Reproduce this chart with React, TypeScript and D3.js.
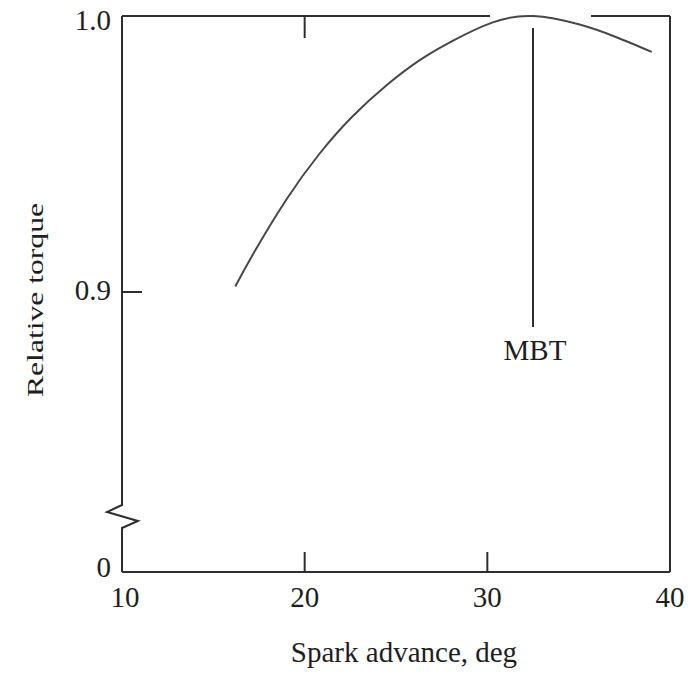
import React from "react";
import * as d3 from "d3";

// Spark advance sweep (deg BTC) and torque relative to the maximum
const sparkAdvance = [16.2, 17.2, 19.0, 20.8, 22.6, 24.5, 26.3, 28.1, 30.3, 32.5, 35.0, 37.0, 39.0];
const relTorque = [0.902, 0.914, 0.9335, 0.95, 0.9635, 0.975, 0.984, 0.991, 0.9977, 1.0, 0.997, 0.9925, 0.987];

const xTicks = [10, 20, 30, 40];
const yTicks = [0.9, 1.0];
const yZeroLabel = "0";
const mbtAdvance = 32.5;

const W = 692;
const H = 678;
const left = 122;
const right = 670;
const top = 16;
const bottom = 572;

export default function App() {
  const x = d3.scaleLinear().domain([10, 40]).range([left, right]);
  const y = d3.scaleLinear().domain([0.9, 1.0]).range([292, top]);

  const pts: [number, number][] = sparkAdvance.map((d, i) => [d, relTorque[i]]);
  const line = d3
    .line<[number, number]>()
    .x((d) => x(d[0]))
    .y((d) => y(d[1]))
    .curve(d3.curveNatural);

  const axisColor = "#2e2e2e";
  const textColor = "#1e1e1e";
  const serif = "'Liberation Serif', 'Times New Roman', serif";
  const fs = 29;

  // left axis with a break mark near the bottom
  const breakTop = 505;
  const breakBottom = 528;
  const leftAxisPath = [
    `M${left},${top}`,
    `L${left},${breakTop}`,
    `L${left - 15},${breakTop + 7}`,
    `L${left + 16},${breakTop + 16}`,
    `L${left},${breakBottom}`,
    `L${left},${bottom}`,
  ].join(" ");

  return (
    <svg
      width={W}
      height={H}
      style={{ position: "absolute", left: 0, top: 0, background: "#fff" }}
    >
      {/* frame */}
      <path d={leftAxisPath} fill="none" stroke={axisColor} strokeWidth={2} />
      <line x1={left} x2={right} y1={bottom} y2={bottom} stroke={axisColor} strokeWidth={2} />
      <line x1={right} x2={right} y1={top} y2={bottom} stroke={axisColor} strokeWidth={2} />
      <line x1={left} x2={490} y1={top} y2={top} stroke={axisColor} strokeWidth={2} />
      <line x1={591} x2={right} y1={top} y2={top} stroke={axisColor} strokeWidth={2} />

      {/* inward ticks */}
      {xTicks
        .filter((t) => t > 10 && t < 40)
        .map((t) => (
          <line key={"b" + t} x1={x(t)} x2={x(t)} y1={bottom} y2={bottom - 20} stroke={axisColor} strokeWidth={2} />
        ))}
      <line x1={x(20)} x2={x(20)} y1={top} y2={top + 22} stroke={axisColor} strokeWidth={2} />
      <line x1={left} x2={left + 20} y1={y(0.9)} y2={y(0.9)} stroke={axisColor} strokeWidth={2} />

      {/* x tick labels */}
      {xTicks.map((t) => (
        <text
          key={"xl" + t}
          x={x(t) + (t === 10 ? 3 : 0)}
          y={607}
          textAnchor="middle"
          fontFamily={serif}
          fontSize={fs}
          fill={textColor}
        >
          {t}
        </text>
      ))}

      {/* y tick labels */}
      {yTicks.map((t) => (
        <text
          key={"yl" + t}
          x={111}
          y={y(t) + (t === 1.0 ? 14 : 8)}
          textAnchor="end"
          fontFamily={serif}
          fontSize={fs}
          fill={textColor}
        >
          {t.toFixed(1)}
        </text>
      ))}
      <text x={111} y={577} textAnchor="end" fontFamily={serif} fontSize={fs} fill={textColor}>
        {yZeroLabel}
      </text>

      {/* torque curve */}
      <path d={line(pts) ?? ""} fill="none" stroke="#474747" strokeWidth={2} />

      {/* MBT marker */}
      <line x1={x(mbtAdvance)} x2={x(mbtAdvance)} y1={28} y2={327} stroke={axisColor} strokeWidth={2} />
      <text x={x(mbtAdvance) + 2} y={360} textAnchor="middle" fontFamily={serif} fontSize={fs} fill={textColor}>
        MBT
      </text>

      {/* axis titles */}
      <text x={404} y={662} textAnchor="middle" fontFamily={serif} fontSize={fs} fill={textColor}>
        Spark advance, deg
      </text>
      <text
        transform="translate(43,300) rotate(-90)"
        textAnchor="middle"
        fontFamily={serif}
        fontSize={23}
        textLength={194}
        lengthAdjust="spacingAndGlyphs"
        fill={textColor}
      >
        Relative torque
      </text>
    </svg>
  );
}
